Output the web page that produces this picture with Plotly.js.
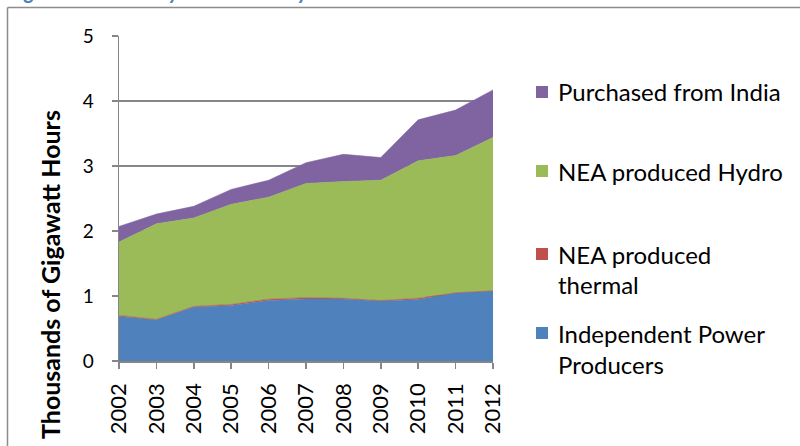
<!DOCTYPE html>
<html>
<head>
<meta charset="utf-8">
<script src="https://cdn.plot.ly/plotly-3.0.1.min.js"></script>
<style>
  html, body { margin: 0; padding: 0; background: #fff; }
  #chart { width: 800px; height: 446px; }
</style>
</head>
<body>
<div id="chart"></div>
<script>
// ---- data (thousands of GWh) ----
const years = [2002, 2003, 2004, 2005, 2006, 2007, 2008, 2009, 2010, 2011, 2012];
const yearLabels = ["2002", "2003", "2004", "2005", "2006", "2007", "2008", "2009", "2010", "2011", "2012"];
const ipp      = [0.685, 0.635, 0.83, 0.855, 0.93, 0.955, 0.955, 0.925, 0.945, 1.045, 1.077];
const thermal  = [0.015, 0.005, 0.01, 0.015, 0.02, 0.02, 0.01, 0.005, 0.02, 0.005, 0.003];
const hydro    = [1.13, 1.47, 1.36, 1.54, 1.57, 1.755, 1.795, 1.85, 2.115, 2.11, 2.36];
const india    = [0.24, 0.15, 0.18, 0.23, 0.26, 0.32, 0.42, 0.35, 0.63, 0.70, 0.73];
const seriesNames = ["Independent Power Producers", "NEA produced thermal", "NEA produced Hydro", "Purchased from India"];
const yTicks = [0, 1, 2, 3, 4, 5];

const colors = ["#4F81BD", "#C0504D", "#9BBB59", "#8064A2"];
const values = [ipp, thermal, hydro, india];

const traces = values.map((v, i) => ({
  type: "scatter",
  x: years,
  y: v,
  name: seriesNames[i],
  stackgroup: "one",
  mode: "lines",
  line: { width: 0.6, color: colors[i] },
  fillcolor: colors[i],
  hoverinfo: "x+y+name",
  showlegend: false
}));

// layout geometry helpers (pixel -> paper)
const L = 119, R = 307, T = 36, B = 85, W = 800, H = 446;
const pw = W - L - R, ph = H - T - B;
const px = p => (p - L) / pw;
const py = p => (H - B - p) / ph;

const font = "Lato, 'Open Sans', sans-serif";
const grey = "#868686";

const annotations = [];
const shapes = [];

// legend (top to bottom, reversed stacking order)
const legendItems = [
  { c: colors[3], lines: ["Purchased from India"], y: [92] },
  { c: colors[2], lines: ["NEA produced Hydro"], y: [171] },
  { c: colors[1], lines: ["NEA produced", "thermal"], y: [254, 284] },
  { c: colors[0], lines: ["Independent Power", "Producers"], y: [333, 364] }
];
legendItems.forEach(it => {
  shapes.push({
    type: "rect", xref: "paper", yref: "paper",
    x0: px(536), x1: px(548), y0: py(it.y[0] + 6), y1: py(it.y[0] - 6),
    fillcolor: it.c, line: { width: 0 }
  });
  it.lines.forEach((t, k) => {
    annotations.push({
      xref: "paper", yref: "paper", x: px(556), y: py(it.y[k]),
      xanchor: "left", yanchor: "middle", showarrow: false,
      text: t, font: { family: font, size: 24, color: "#000" }
    });
  });
});

// y axis title
annotations.push({
  xref: "paper", yref: "paper", x: px(50), y: py(275),
  xanchor: "center", yanchor: "middle", showarrow: false, textangle: -90,
  text: "<b>Thousands of Gigawatt Hours</b>",
  font: { family: font, size: 25, color: "#000" }
});

// figure caption (cut off at top, as in the source)
annotations.push({
  xref: "paper", yref: "paper", x: px(6), y: py(5),
  xanchor: "left", yanchor: "bottom", showarrow: false,
  text: "<b><i>Figure 4: Electricity Generation by Source</i></b>",
  font: { family: font, size: 21, color: "#4F81BD" }
});

// outer frame (left + top edges)
shapes.push({
  type: "line", xref: "paper", yref: "paper",
  x0: px(7.5), x1: px(7.5), y0: py(7.5), y1: py(460),
  line: { color: "#8c8c8c", width: 1.5 }
});
shapes.push({
  type: "line", xref: "paper", yref: "paper",
  x0: px(7.5), x1: px(810), y0: py(7.5), y1: py(7.5),
  line: { color: "#8c8c8c", width: 1.5 }
});

const layout = {
  width: W, height: H,
  margin: { l: L, r: R, t: T, b: B, pad: 0 },
  paper_bgcolor: "#fff", plot_bgcolor: "#fff",
  showlegend: false,
  xaxis: {
    range: [years[0], years[years.length - 1]],
    tickvals: years, ticktext: yearLabels, tickangle: -90,
    ticks: "outside", ticklen: 6, tickwidth: 1.5, tickcolor: grey,
    showline: true, linecolor: grey, linewidth: 1.5,
    showgrid: false, zeroline: false,
    tickfont: { family: font, size: 22, color: "#000" },
    ticklabelstandoff: 6
  },
  yaxis: {
    range: [0, 5], tickvals: yTicks,
    ticks: "outside", ticklen: 6, tickwidth: 1.5, tickcolor: grey,
    showline: true, linecolor: grey, linewidth: 1.5,
    showgrid: true, gridcolor: grey, gridwidth: 1.5, zeroline: false,
    tickfont: { family: font, size: 19, color: "#000" },
    ticklabelstandoff: 14
  },
  annotations: annotations,
  shapes: shapes
};

Plotly.newPlot("chart", traces, layout, { staticPlot: true, displayModeBar: false });
</script>
</body>
</html>
